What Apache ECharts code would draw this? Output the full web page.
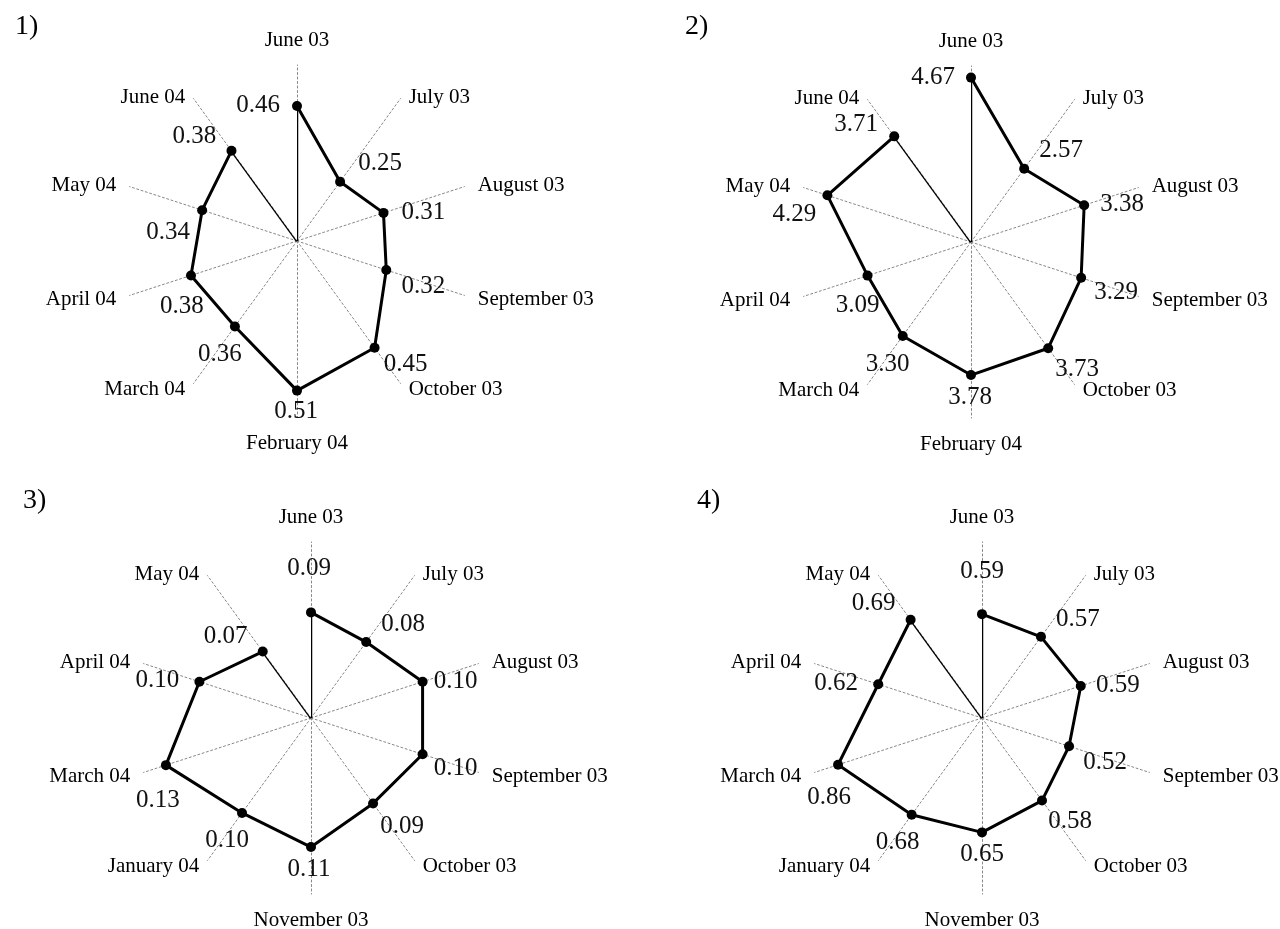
<!DOCTYPE html>
<html>
<head>
<meta charset="utf-8">
<script src="https://cdn.jsdelivr.net/npm/echarts@6/dist/echarts.min.js"></script>
<style>html,body{margin:0;padding:0;background:#fff;}#main{width:1280px;height:929px;}</style>
</head>
<body>
<div id="main"></div>
<script>
// ---- data ----
var catsA = ['June 03','July 03','August 03','September 03','October 03','February 04','March 04','April 04','May 04','June 04'];
var catsB = ['June 03','July 03','August 03','September 03','October 03','November 03','January 04','March 04','April 04','May 04'];
var values1 = [0.46,0.25,0.31,0.32,0.45,0.51,0.36,0.38,0.34,0.38];
var values2 = [4.67,2.57,3.38,3.29,3.73,3.78,3.30,3.09,4.29,3.71];
var values3 = [0.09,0.08,0.10,0.10,0.09,0.11,0.10,0.13,0.10,0.07];
var values4 = [0.59,0.57,0.59,0.52,0.58,0.65,0.68,0.86,0.62,0.69];
var radialMax = [0.6, 5, 0.15, 1];
var panelNames = ['1)','2)','3)','4)'];

// ---- layout / style ----
var centers = [[297,241],[971,242],[311,718],[982,718]];
var R = 176;
var titlePos = [[10,8],[680,8],[18,482],[692,482]];
var labelOffsets = [
  [[-39,-1],[40,-18],[40,0],[37,16],[31,17],[-1,21],[-15,28],[-9,31],[-34,22],[-37,-14]],
  [[-38,0],[37,-18],[38,-1],[35,15],[29,21],[-1,22],[-15,28],[-10,30],[-33,19],[-38,-12]],
  [[-2,-44],[37,-18],[33,0],[33,14],[29,23],[-2,22],[-15,28],[-8,35],[-42,-1],[-37,-15]],
  [[0,-43],[37,-17],[37,0],[36,16],[28,21],[0,22],[-14,28],[-9,33],[-42,-1],[-37,-16]]
];
// vertical nudge of category names, by radar indicator slot (counter-clockwise from top)
var nameShift = [0, 10, 3, 0, -5, 2, -5, 0, 3, 10];
var FONT = 'Liberation Serif';
var NAME_SIZE = 21;

var panels = [
  {cats: catsA, vals: values1},
  {cats: catsA, vals: values2},
  {cats: catsB, vals: values3},
  {cats: catsB, vals: values4}
];

var option = {
  animation: false,
  backgroundColor: '#fff',
  title: [], radar: [], polar: [], angleAxis: [], radiusAxis: [], series: []
};

panels.forEach(function (p, i) {
  option.title.push({
    text: panelNames[i], left: titlePos[i][0], top: titlePos[i][1],
    textStyle: {fontFamily: FONT, fontSize: 28, fontWeight: 'normal', color: '#000'}
  });
  var order = [p.cats[0]].concat(p.cats.slice(1).reverse());
  var ind = order.map(function (n) { return {name: n, max: radialMax[i], min: 0}; });
  var rich = {n: {fontFamily: FONT, fontSize: NAME_SIZE, color: '#000', lineHeight: NAME_SIZE}};
  [2, 3, 5, 6, 10, 12, 20].forEach(function (h) { rich['s' + h] = {fontSize: 1, lineHeight: h}; });
  option.radar.push({
    center: centers[i], radius: R, startAngle: 90, indicator: ind,
    nameGap: 14, splitNumber: 1,
    axisName: {
      color: '#000', fontFamily: FONT, fontSize: NAME_SIZE, rich: rich,
      formatter: function (name) {
        var j = order.indexOf(name);
        var s = nameShift[j];
        if (j === 5) return '{s' + s + '| }\n{n|' + name + '}';
        if (s > 0) return '{s' + (2 * s) + '| }\n{n|' + name + '}';
        if (s < 0) return '{n|' + name + '}\n{s' + (-2 * s) + '| }';
        return '{n|' + name + '}';
      }
    },
    axisLine: {lineStyle: {color: '#888', width: 1, type: [2, 2.5]}},
    splitLine: {show: false}, splitArea: {show: false},
    axisTick: {show: false}, axisLabel: {show: false}
  });
  option.polar.push({center: centers[i], radius: R});
  option.angleAxis.push({
    polarIndex: i, type: 'category', data: p.cats, boundaryGap: false,
    startAngle: 90, clockwise: true, show: false
  });
  option.radiusAxis.push({polarIndex: i, type: 'value', min: 0, max: radialMax[i], show: false});

  var n = p.vals.length;
  option.series.push({
    type: 'line', coordinateSystem: 'polar', polarIndex: i,
    data: p.vals.map(function (v, k) {
      return {value: [v, k], label: {offset: labelOffsets[i][k]}};
    }),
    symbol: 'circle', symbolSize: 10,
    itemStyle: {color: '#000'},
    lineStyle: {color: '#000', width: 3},
    label: {
      show: true, position: 'inside', color: '#111',
      fontFamily: FONT, fontSize: 25,
      formatter: function (d) { return d.value[0].toFixed(2); }
    },
    z: 3
  });
  option.series.push({
    type: 'line', coordinateSystem: 'polar', polarIndex: i,
    data: [[0, 0], [p.vals[0], 0]], symbol: 'none',
    lineStyle: {color: '#000', width: 2.5}, z: 2
  });
  option.series.push({
    type: 'line', coordinateSystem: 'polar', polarIndex: i,
    data: [[p.vals[n - 1], n - 1], [0, n - 1]], symbol: 'none',
    lineStyle: {color: '#000', width: 2.5}, z: 2
  });
});

var chart = echarts.init(document.getElementById('main'), null, {renderer: 'canvas'});
chart.setOption(option);
</script>
</body>
</html>
